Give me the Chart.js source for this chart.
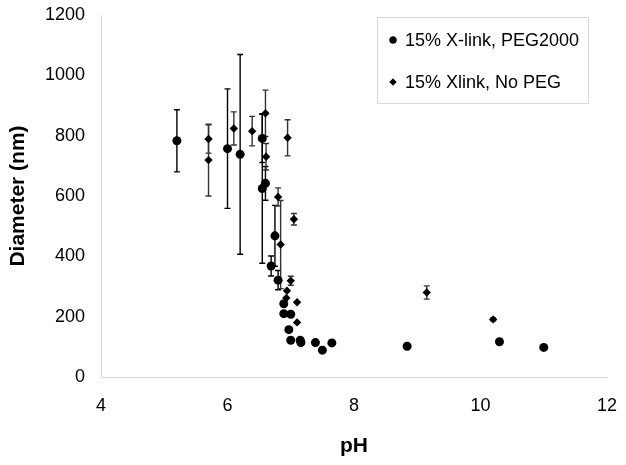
<!DOCTYPE html>
<html>
<head>
<meta charset="utf-8">
<script src="https://cdn.jsdelivr.net/npm/chart.js@4/dist/chart.umd.min.js"></script>
<style>
  html, body { margin: 0; padding: 0; background: #fff; }
  #wrap { width: 626px; height: 465px; }
</style>
</head>
<body>
<div id="wrap"><canvas id="chart" width="626" height="465"></canvas></div>
<script>
// Data
const seriesNames = ['15% X-link, PEG2000', '15% Xlink, No PEG'];

const phPeg   = [5.2, 6.0, 6.2, 6.55, 6.55, 6.6, 6.69, 6.75, 6.8, 6.89, 6.89, 6.97, 7.0, 7.0, 7.15, 7.16, 7.39, 7.5, 7.65, 8.84, 10.3, 11.0];
const diamPeg = [783, 757, 738, 791, 625, 642, 368, 468, 321, 243, 210, 157, 208, 122, 122, 114, 114, 89, 113, 102, 117, 98];
const errPeg  = [103, 198, 331, 80, 248, 56, 33, 101, 32, 0, 0, 0, 0, 0, 0, 0, 0, 0, 0, 0, 0, 0];

const phNoPeg   = [5.7, 5.7, 6.1, 6.39, 6.6, 6.61, 6.8, 6.84, 6.95, 7.05, 7.0, 6.94, 6.93, 7.1, 7.1, 9.15, 10.2];
const diamNoPeg = [789, 719, 824, 815, 874, 730, 597, 439, 793, 523, 319, 286, 262, 248, 181, 280, 191];
const errNoPeg  = [47, 119, 55, 49, 77, 44, 30, 146, 60, 19, 15, 0, 0, 0, 0, 22, 5];

const toPoints = (xs, ys) => xs.map((x, i) => ({ x: x, y: ys[i] }));

// Error bars, drawn under the markers using the chart's scales
const errorBars = {
  id: 'errorBars',
  beforeDatasetsDraw(chart) {
    const ctx = chart.ctx;
    const ys = chart.scales.y;
    chart.data.datasets.forEach((ds, di) => {
      const meta = chart.getDatasetMeta(di);
      ctx.save();
      ctx.strokeStyle = ds.errColor;
      ctx.lineWidth = 1.4;
      meta.data.forEach((pt, i) => {
        const e = ds.errors[i];
        if (!e) return;
        const v = ds.data[i].y;
        const top = ys.getPixelForValue(v + e);
        const bot = ys.getPixelForValue(v - e);
        ctx.beginPath();
        ctx.moveTo(pt.x, top); ctx.lineTo(pt.x, bot);
        ctx.moveTo(pt.x - 3, top); ctx.lineTo(pt.x + 3, top);
        ctx.moveTo(pt.x - 3, bot); ctx.lineTo(pt.x + 3, bot);
        ctx.stroke();
      });
      ctx.restore();
    });
  }
};

// Boxed legend in the top right corner of the plot
const boxLegend = {
  id: 'boxLegend',
  afterDraw(chart) {
    const ctx = chart.ctx;
    const x0 = 377, y0 = 17, w = 211, h = 86;
    ctx.save();
    ctx.strokeStyle = '#d9d9d9';
    ctx.lineWidth = 1;
    ctx.fillStyle = '#fff';
    ctx.fillRect(x0, y0, w, h);
    ctx.strokeRect(x0 + 0.5, y0 + 0.5, w, h);
    ctx.font = '18px "Liberation Sans", Arial, sans-serif';
    ctx.textBaseline = 'middle';
    chart.data.datasets.forEach((ds, i) => {
      const cy = 40 + i * 42;
      ctx.fillStyle = '#000';
      Chart.helpers.drawPoint(ctx, {
        pointStyle: ds.pointStyle, radius: ds.legendRadius, borderWidth: 0
      }, 393, cy);
      ctx.fill();
      ctx.fillText(ds.label, 405, cy + 1);
    });
    ctx.restore();
  }
};

const tickFont = { family: '"Liberation Sans", Arial', size: 18 };
const titleFont = { family: '"Liberation Sans", Arial', size: 21, weight: 'bold' };

new Chart(document.getElementById('chart'), {
  type: 'scatter',
  data: {
    datasets: [
      {
        label: seriesNames[0],
        data: toPoints(phPeg, diamPeg),
        errors: errPeg,
        errColor: '#000',
        pointStyle: 'circle',
        pointRadius: 4.5,
        legendRadius: 3.5,
        backgroundColor: '#000',
        borderColor: '#000',
        borderWidth: 0
      },
      {
        label: seriesNames[1],
        data: toPoints(phNoPeg, diamNoPeg),
        errors: errNoPeg,
        errColor: '#333',
        pointStyle: 'rectRot',
        pointRadius: 4.2,
        legendRadius: 3.5,
        backgroundColor: '#000',
        borderColor: '#000',
        borderWidth: 0
      }
    ]
  },
  options: {
    responsive: false,
    animation: false,
    layout: { padding: { left: 0, right: 19, top: 15, bottom: 0 } },
    plugins: {
      legend: { display: false },
      tooltip: { enabled: false }
    },
    scales: {
      x: {
        type: 'linear',
        min: 4, max: 12,
        ticks: { stepSize: 2, color: '#000', padding: 18, font: tickFont },
        grid: { display: false, drawTicks: false },
        border: { display: true, color: '#d9d9d9' },
        title: { display: true, text: 'pH', color: '#000', padding: { top: 8, bottom: 6 }, font: titleFont },
        afterFit: s => { s.height = 88; s.paddingLeft = 0; s.paddingRight = 0; }
      },
      y: {
        min: 0, max: 1200,
        ticks: { stepSize: 200, color: '#000', padding: 16, font: tickFont, callback: v => String(v) },
        grid: { display: false, drawTicks: false },
        border: { display: true, color: '#d9d9d9' },
        title: { display: true, text: 'Diameter (nm)', color: '#000', padding: { top: 6, bottom: 0 }, font: titleFont },
        afterFit: s => { s.width = 101; s.paddingTop = 0; s.paddingBottom = 0; }
      }
    }
  },
  plugins: [errorBars, boxLegend]
});
</script>
</body>
</html>
